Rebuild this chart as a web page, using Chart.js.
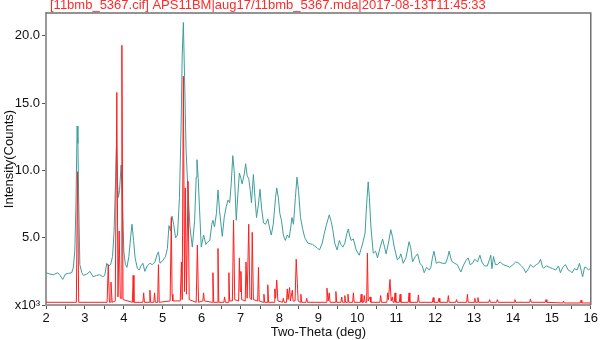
<!DOCTYPE html>
<html>
<head>
<meta charset="utf-8">
<script src="https://cdn.jsdelivr.net/npm/chart.js@4.4.1/dist/chart.umd.min.js"></script>
<style>
  html, body { margin: 0; padding: 0; background: #fff; }
  #wrap { width: 600px; height: 340px; }
</style>
</head>
<body>
<div id="wrap"><canvas id="chart" width="600" height="340"></canvas></div>
<script>
// Header text and axis labels
const headerText = '[11bmb_5367.cif] APS11BM|aug17/11bmb_5367.mda|2017-08-13T11:45:33';
const xTitle = 'Two-Theta (deg)';
const yTitle = 'Intensity(Counts)';
const yTickValues = [0, 5, 10, 15, 20];

// observed pattern (teal), intensity in x10^3 counts
const obsX = [2.00,2.10,2.19,2.30,2.36,2.43,2.50,2.58,2.66,2.70,2.74,2.77,2.80,2.82,2.84,2.87,2.92,2.96,3.05,3.13,3.21,3.30,3.38,3.46,3.51,3.56,3.61,3.66,3.71,3.75,3.79,3.81,3.84,3.86,3.89,3.93,3.96,4.00,4.04,4.08,4.13,4.18,4.21,4.25,4.29,4.35,4.40,4.44,4.49,4.54,4.60,4.67,4.73,4.80,4.86,4.89,4.93,5.00,5.07,5.12,5.16,5.20,5.24,5.28,5.33,5.38,5.43,5.47,5.50,5.53,5.56,5.60,5.64,5.70,5.76,5.82,5.86,5.88,5.91,5.94,5.99,6.05,6.11,6.16,6.21,6.26,6.29,6.33,6.38,6.42,6.46,6.53,6.58,6.63,6.68,6.72,6.76,6.80,6.84,6.89,6.93,6.97,7.01,7.04,7.10,7.13,7.17,7.21,7.25,7.28,7.33,7.37,7.41,7.46,7.50,7.54,7.59,7.64,7.70,7.74,7.79,7.84,7.90,7.93,7.97,8.01,8.05,8.10,8.15,8.20,8.25,8.29,8.32,8.36,8.41,8.45,8.49,8.54,8.60,8.65,8.73,8.85,8.94,8.98,9.03,9.10,9.15,9.21,9.28,9.33,9.37,9.42,9.48,9.54,9.58,9.63,9.68,9.73,9.77,9.80,9.84,9.90,9.97,10.05,10.10,10.14,10.20,10.24,10.28,10.31,10.35,10.41,10.47,10.52,10.58,10.65,10.70,10.74,10.80,10.86,10.91,10.95,11.03,11.08,11.12,11.18,11.25,11.33,11.37,11.42,11.49,11.55,11.61,11.67,11.72,11.78,11.85,11.89,11.93,11.97,12.03,12.10,12.18,12.27,12.32,12.36,12.40,12.44,12.50,12.57,12.62,12.66,12.72,12.79,12.85,12.90,12.96,13.02,13.09,13.15,13.20,13.27,13.34,13.40,13.43,13.46,13.50,13.55,13.60,13.67,13.75,13.85,13.92,14.00,14.07,14.15,14.22,14.28,14.33,14.40,14.45,14.52,14.60,14.66,14.71,14.76,14.79,14.86,14.94,15.02,15.10,15.17,15.22,15.28,15.35,15.42,15.48,15.52,15.58,15.65,15.71,15.75,15.79,15.84,15.88,15.94,16.00];
const obsY = [2.4,2.3,2.25,2.4,2.2,1.9,2.3,2.35,2.4,2.75,4.0,7.5,13.3,12.0,7.8,3.0,2.4,2.2,2.3,2.5,2.1,2.2,2.25,2.1,2.2,3.1,2.9,3.0,3.6,5.5,9.5,11.7,9.0,8.0,8.5,10.4,8.0,4.0,3.0,2.8,3.6,5.2,6.0,4.8,3.5,2.7,2.6,2.9,3.1,2.5,2.9,3.1,3.0,3.2,3.8,3.95,3.1,3.3,3.6,4.2,5.9,5.5,6.6,6.0,5.0,5.2,8.0,13.0,18.5,21.0,17.0,11.5,9.0,5.8,4.3,6.3,9.5,10.8,9.5,7.5,4.3,5.2,4.5,4.7,4.8,6.0,6.3,5.8,6.8,8.55,7.0,5.1,6.5,7.3,7.8,7.6,9.0,11.1,9.8,6.3,8.2,9.8,9.4,9.0,9.8,10.5,9.6,9.4,8.5,7.6,9.7,8.0,6.5,7.5,8.6,7.2,6.1,6.0,6.4,5.8,5.2,6.0,8.0,8.7,8.0,6.8,6.3,5.2,4.8,5.2,5.0,5.8,6.5,6.0,8.0,9.5,8.5,6.5,5.6,5.0,4.6,4.5,4.3,4.2,4.1,4.6,5.3,6.0,6.7,6.2,5.6,4.6,4.1,4.8,4.5,4.3,4.6,5.3,5.65,5.2,4.8,4.9,4.1,3.7,4.2,4.6,5.35,7.5,9.15,8.0,5.8,3.85,4.0,3.5,4.2,4.9,4.3,3.8,4.6,5.6,5.0,4.3,3.35,3.5,3.8,3.1,3.5,4.7,4.3,3.2,3.6,3.8,3.1,2.9,2.4,2.8,2.6,2.8,3.5,4.0,3.1,3.2,3.1,3.1,3.5,4.0,3.5,3.2,3.1,3.0,2.7,2.45,2.9,3.3,3.5,3.0,3.1,3.4,3.2,3.7,3.2,2.9,2.9,3.4,3.7,2.7,3.6,3.0,3.0,3.2,3.0,2.9,2.8,3.0,3.2,3.1,2.9,2.7,2.4,2.7,3.0,2.8,3.0,3.1,3.4,2.8,2.75,2.9,2.8,2.7,2.6,2.9,2.4,2.8,3.0,2.6,2.5,2.4,2.7,2.6,3.1,2.6,2.1,2.8,2.8,2.6,2.75];

// calculated pattern (red)
const calcX = [2.00,2.78,2.81,2.84,3.57,3.60,3.63,3.65,3.67,3.70,3.78,3.82,3.85,3.88,3.91,3.93,3.95,3.98,4.22,4.24,4.26,4.49,4.51,4.53,4.65,4.67,4.69,4.77,4.79,4.81,4.87,4.89,4.91,5.19,5.22,5.24,5.26,5.45,5.48,5.50,5.53,5.56,5.58,5.61,5.65,5.68,5.86,5.89,5.92,6.03,6.05,6.07,6.27,6.29,6.31,6.40,6.42,6.44,6.57,6.59,6.61,6.68,6.70,6.72,6.79,6.82,6.85,6.95,6.97,6.99,7.01,7.03,7.12,7.14,7.17,7.21,7.24,7.28,7.30,7.33,7.44,7.46,7.48,7.58,7.60,7.62,7.68,7.70,7.72,7.86,7.88,7.90,7.93,7.96,8.08,8.10,8.12,8.18,8.20,8.22,8.26,8.28,8.33,8.35,8.40,8.43,8.46,8.48,8.53,8.55,8.57,8.68,8.70,8.72,9.20,9.22,9.25,9.28,9.30,9.43,9.45,9.47,9.58,9.60,9.62,9.66,9.68,9.70,9.74,9.76,9.78,9.88,9.90,9.92,10.08,10.10,10.12,10.16,10.18,10.20,10.24,10.26,10.28,10.33,10.35,10.58,10.60,10.62,10.76,10.78,10.80,10.84,10.87,10.90,10.92,10.95,10.97,10.99,11.08,11.10,11.12,11.31,11.33,11.35,11.55,11.57,11.59,11.93,11.95,11.97,12.08,12.10,12.12,12.32,12.34,12.36,12.53,12.55,12.57,12.81,12.83,12.85,13.00,13.02,13.04,13.08,13.10,13.12,13.38,13.40,13.42,13.58,13.60,13.62,14.03,14.05,14.07,14.43,14.45,14.47,14.83,14.85,14.87,15.28,15.30,15.32,15.73,15.75,15.77,16.00];
const calcY = [0.2,0.2,9.9,0.2,0.2,3.0,0.2,0.2,1.7,0.2,0.3,15.8,0.6,5.5,0.5,0.5,19.3,0.4,0.2,2.2,0.2,0.2,0.9,0.2,0.2,1.1,0.2,0.2,0.9,0.2,0.2,3.0,0.2,0.3,6.5,0.8,0.3,0.3,3.2,0.4,17.0,1.0,8.7,0.8,9.2,0.4,0.2,4.45,0.2,0.3,0.9,0.3,0.2,2.4,0.2,0.2,4.2,0.2,0.2,0.6,0.2,0.2,2.4,0.3,0.3,6.3,0.4,0.3,3.5,1.0,2.5,0.4,0.3,3.2,0.5,6.0,0.5,0.4,5.4,0.4,0.3,2.8,0.3,0.2,0.8,0.2,0.2,1.5,0.2,0.2,1.2,0.5,1.85,0.3,0.2,0.5,0.2,0.2,1.2,0.4,1.3,0.3,1.1,0.3,0.3,3.4,1.6,0.3,0.2,0.8,0.2,0.2,0.5,0.2,0.2,1.25,0.3,0.9,0.2,0.2,1.0,0.2,0.2,0.6,0.2,0.2,0.7,0.2,0.2,0.8,0.2,0.2,0.9,0.2,0.2,0.8,0.2,0.2,0.7,0.2,0.2,3.85,0.3,0.6,0.2,0.2,0.7,0.2,0.2,0.9,0.4,1.9,0.3,0.6,0.2,0.2,0.9,0.2,0.2,0.8,0.2,0.2,0.9,0.2,0.2,0.75,0.2,0.2,0.55,0.2,0.2,0.5,0.2,0.2,0.7,0.2,0.2,0.4,0.2,0.2,0.8,0.2,0.2,0.5,0.2,0.2,0.55,0.2,0.2,0.4,0.2,0.2,0.4,0.2,0.2,0.4,0.2,0.2,0.45,0.2,0.2,0.4,0.2,0.15,0.3,0.15,0.15,0.35,0.15,0.15];

const FONT = "'Liberation Sans', Arial, sans-serif";
Chart.defaults.font.family = FONT;
Chart.defaults.font.size = 13;
Chart.defaults.color = '#111';

const toPoints = (xs, ys) => xs.map((x, i) => ({ x: x, y: ys[i] }));

// header text + top/right frame
const framePlugin = {
    id: 'frame',
    afterDraw(chart) {
        const { ctx, chartArea: a } = chart;
        ctx.save();
        ctx.strokeStyle = '#707070';
        ctx.lineWidth = 1.5;
        ctx.beginPath();
        ctx.moveTo(a.left, a.top);
        ctx.lineTo(a.right, a.top);
        ctx.lineTo(a.right, a.bottom);
        ctx.stroke();
        ctx.fillStyle = '#ff2a2a';
        ctx.font = '13px ' + FONT;
        ctx.textBaseline = 'middle';
        ctx.textAlign = 'left';
        ctx.fillText(headerText, a.left + 4, 5);
        ctx.restore();
    }
};

new Chart(document.getElementById('chart'), {
    type: 'line',
    data: {
        datasets: [
            {
                data: toPoints(calcX, calcY),
                borderColor: '#ff1e1e',
                borderWidth: 1,
                pointRadius: 0,
                tension: 0
            },
            {
                data: toPoints(obsX, obsY),
                borderColor: '#3f9d9d',
                borderWidth: 1,
                pointRadius: 0,
                tension: 0
            }
        ]
    },
    options: {
        responsive: false,
        animation: false,
        devicePixelRatio: 1,
        layout: { padding: { top: 13, right: 8, left: 0, bottom: 0 } },
        plugins: { legend: { display: false }, tooltip: { enabled: false } },
        scales: {
            x: {
                type: 'linear',
                min: 2, max: 16,
                border: { display: true, color: '#999', width: 2 },
                grid: { drawOnChartArea: false, drawTicks: true, tickLength: 4, color: '#555' },
                ticks: {
                    stepSize: 0.5, autoSkip: false, maxRotation: 0, padding: 2,
                    callback: v => Number.isInteger(v) ? String(v) : ''
                },
                title: { display: true, text: xTitle, padding: { top: 0, bottom: 0 } },
                afterFit: s => { s.height = 35; }
            },
            y: {
                type: 'linear',
                min: 0, max: 21.7,
                border: { display: true, color: '#999', width: 2 },
                grid: { drawOnChartArea: false, drawTicks: true, tickLength: 4, color: '#555' },
                ticks: {
                    stepSize: 5, padding: 2,
                    callback: v => v === 0 ? 'x10³' : v.toFixed(1)
                },
                afterBuildTicks: s => {
                    s.ticks = yTickValues.map(v => ({ value: v }));
                },
                title: { display: true, text: yTitle, padding: { top: 2, bottom: 0 } },
                afterFit: s => { s.width = 46; }
            }
        }
    },
    plugins: [framePlugin]
});
</script>
</body>
</html>
